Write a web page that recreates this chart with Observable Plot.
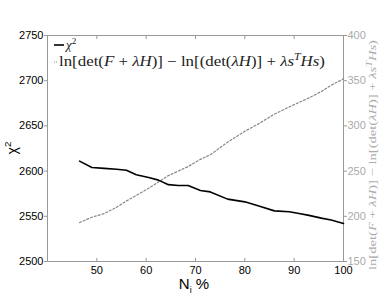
<!DOCTYPE html>
<html>
<head>
<meta charset="utf-8">
<script src="https://cdn.jsdelivr.net/npm/d3@7"></script>
<script src="https://cdn.jsdelivr.net/npm/@observablehq/plot@0.6"></script>
<style>
  html, body { margin: 0; padding: 0; background: #fff; }
  #chart { width: 390px; height: 297px; }
</style>
</head>
<body>
<div id="chart"></div>
<script>
// ---- data ----
const N = [46.5, 49, 51.5, 54, 56, 58, 60.5, 62.5, 64.5, 66.5, 68.5, 71, 73, 76.5, 80, 83, 86, 89, 91, 93, 95.5, 97.5, 100];
const chi2 = [2611, 2604, 2603, 2602, 2601, 2596, 2593, 2590, 2585, 2584, 2584, 2578.5, 2577, 2569, 2566, 2561, 2556, 2555, 2553, 2551, 2548, 2546, 2542];
const lnDet = [193, 199, 203, 210, 217, 223, 231, 238, 245, 250, 255, 263, 268, 282, 294, 303, 313, 321, 326, 331, 338, 345, 352];
const xTicks = [50, 60, 70, 80, 90, 100];
const yTicksLeft = [2500, 2550, 2600, 2650, 2700, 2750];
const yTicksRight = [150, 200, 250, 300, 350, 400];
const xDomain = [40, 100];
const yDomainLeft = [2500, 2750];
const yDomainRight = [150, 400];

// map right axis onto left scale (both span 250 units)
const OFFSET = yDomainLeft[0] - yDomainRight[0];
const idx = N.map((_, i) => i);

const plot = Plot.plot({
  width: 390,
  height: 297,
  marginLeft: 47,
  marginRight: 47,
  marginTop: 35,
  marginBottom: 36,
  style: { fontFamily: "'Liberation Sans', Arial, sans-serif", fontSize: "11px", background: "#fff", color: "#000" },
  x: { domain: xDomain },
  y: { domain: yDomainLeft },
  marks: [
    Plot.frame({ stroke: "#999" }),
    Plot.axisY({ ticks: yTicksLeft, tickFormat: d => String(d), tickSize: 3, tickPadding: 1, label: null, stroke: "#999", fill: "#000" }),
    Plot.axisY({ anchor: "right", ticks: yTicksRight.map(v => v + OFFSET), tickFormat: d => String(d - OFFSET),
                 tickSize: 3, tickPadding: 1, label: null, stroke: "#999", fill: "#aaa" }),
    Plot.axisX({ ticks: xTicks, tickFormat: d => String(d), tickSize: -3, tickPadding: 8, label: null, stroke: "#999", fill: "#000" }),
    Plot.axisX({ anchor: "top", ticks: xTicks, tickSize: -3, tickFormat: () => "", label: null, stroke: "#999" }),
    Plot.line(idx, { x: i => N[i], y: i => lnDet[i] + OFFSET, stroke: "#888", strokeWidth: 1.2, strokeDasharray: "2,2" }),
    Plot.line(idx, { x: i => N[i], y: i => chi2[i], stroke: "#000", strokeWidth: 1.6 })
  ]
});
document.getElementById("chart").appendChild(plot);

const svg = d3.select(plot);
const serif = "'Liberation Serif', 'Times New Roman', serif";

function rich(g, segs, size) {
  segs.forEach(s => {
    const t = g.append("tspan").text(s.t);
    if (s.i) t.attr("font-style", "italic");
    if (s.sup) t.attr("font-size", size * 0.7).attr("dy", -size * 0.4);
    if (s.after) t.attr("dy", size * 0.4);
  });
}

const lnSegs = [
  { t: "ln[det(" }, { t: "F", i: true }, { t: " + " }, { t: "λH", i: true },
  { t: ")] − ln[(det(" }, { t: "λH", i: true }, { t: ")] + " }, { t: "λs", i: true },
  { t: "T", i: true, sup: true }, { t: "Hs", i: true, after: true }, { t: ")" }
];

// legend
svg.append("line").attr("x1", 54).attr("x2", 64).attr("y1", 45).attr("y2", 45)
  .attr("stroke", "#000").attr("stroke-width", 1.6);
const l1 = svg.append("text").attr("x", 66).attr("y", 49).attr("text-anchor", "start")
  .attr("font-family", serif).attr("font-size", 13).attr("fill", "#222");
rich(l1, [{ t: "χ", i: true }, { t: "2", sup: true }], 13);

svg.append("line").attr("x1", 54).attr("x2", 58).attr("y1", 62).attr("y2", 62)
  .attr("stroke", "#888").attr("stroke-width", 1.2).attr("stroke-dasharray", "1,1");
const l2 = svg.append("text").attr("x", 59).attr("y", 66).attr("text-anchor", "start")
  .attr("font-family", serif).attr("font-size", 14).attr("fill", "#222")
  .attr("textLength", 266).attr("lengthAdjust", "spacingAndGlyphs");
rich(l2, lnSegs, 14);

// left y label
const yl = svg.append("text").attr("transform", "translate(17,148) rotate(-90)")
  .attr("text-anchor", "middle").attr("font-family", "'Liberation Sans', Arial, sans-serif").attr("font-size", 14).attr("fill", "#000");
rich(yl, [{ t: "χ" }, { t: "2", sup: true }], 14);

// right y label
const yr = svg.append("text").attr("transform", "translate(376,155) rotate(-90)")
  .attr("text-anchor", "middle").attr("font-family", serif).attr("font-size", 11).attr("fill", "#aaa")
  .attr("textLength", 230).attr("lengthAdjust", "spacingAndGlyphs");
rich(yr, lnSegs, 11);

// x label
const xl = svg.append("text").attr("x", 194).attr("y", 289).attr("text-anchor", "middle")
  .attr("font-family", "'Liberation Sans', Arial, sans-serif").attr("font-size", 15).attr("fill", "#000");
xl.append("tspan").text("N");
xl.append("tspan").text("i").attr("font-size", 9).attr("dy", 4);
xl.append("tspan").text(" %").attr("dy", -4);
</script>
</body>
</html>
